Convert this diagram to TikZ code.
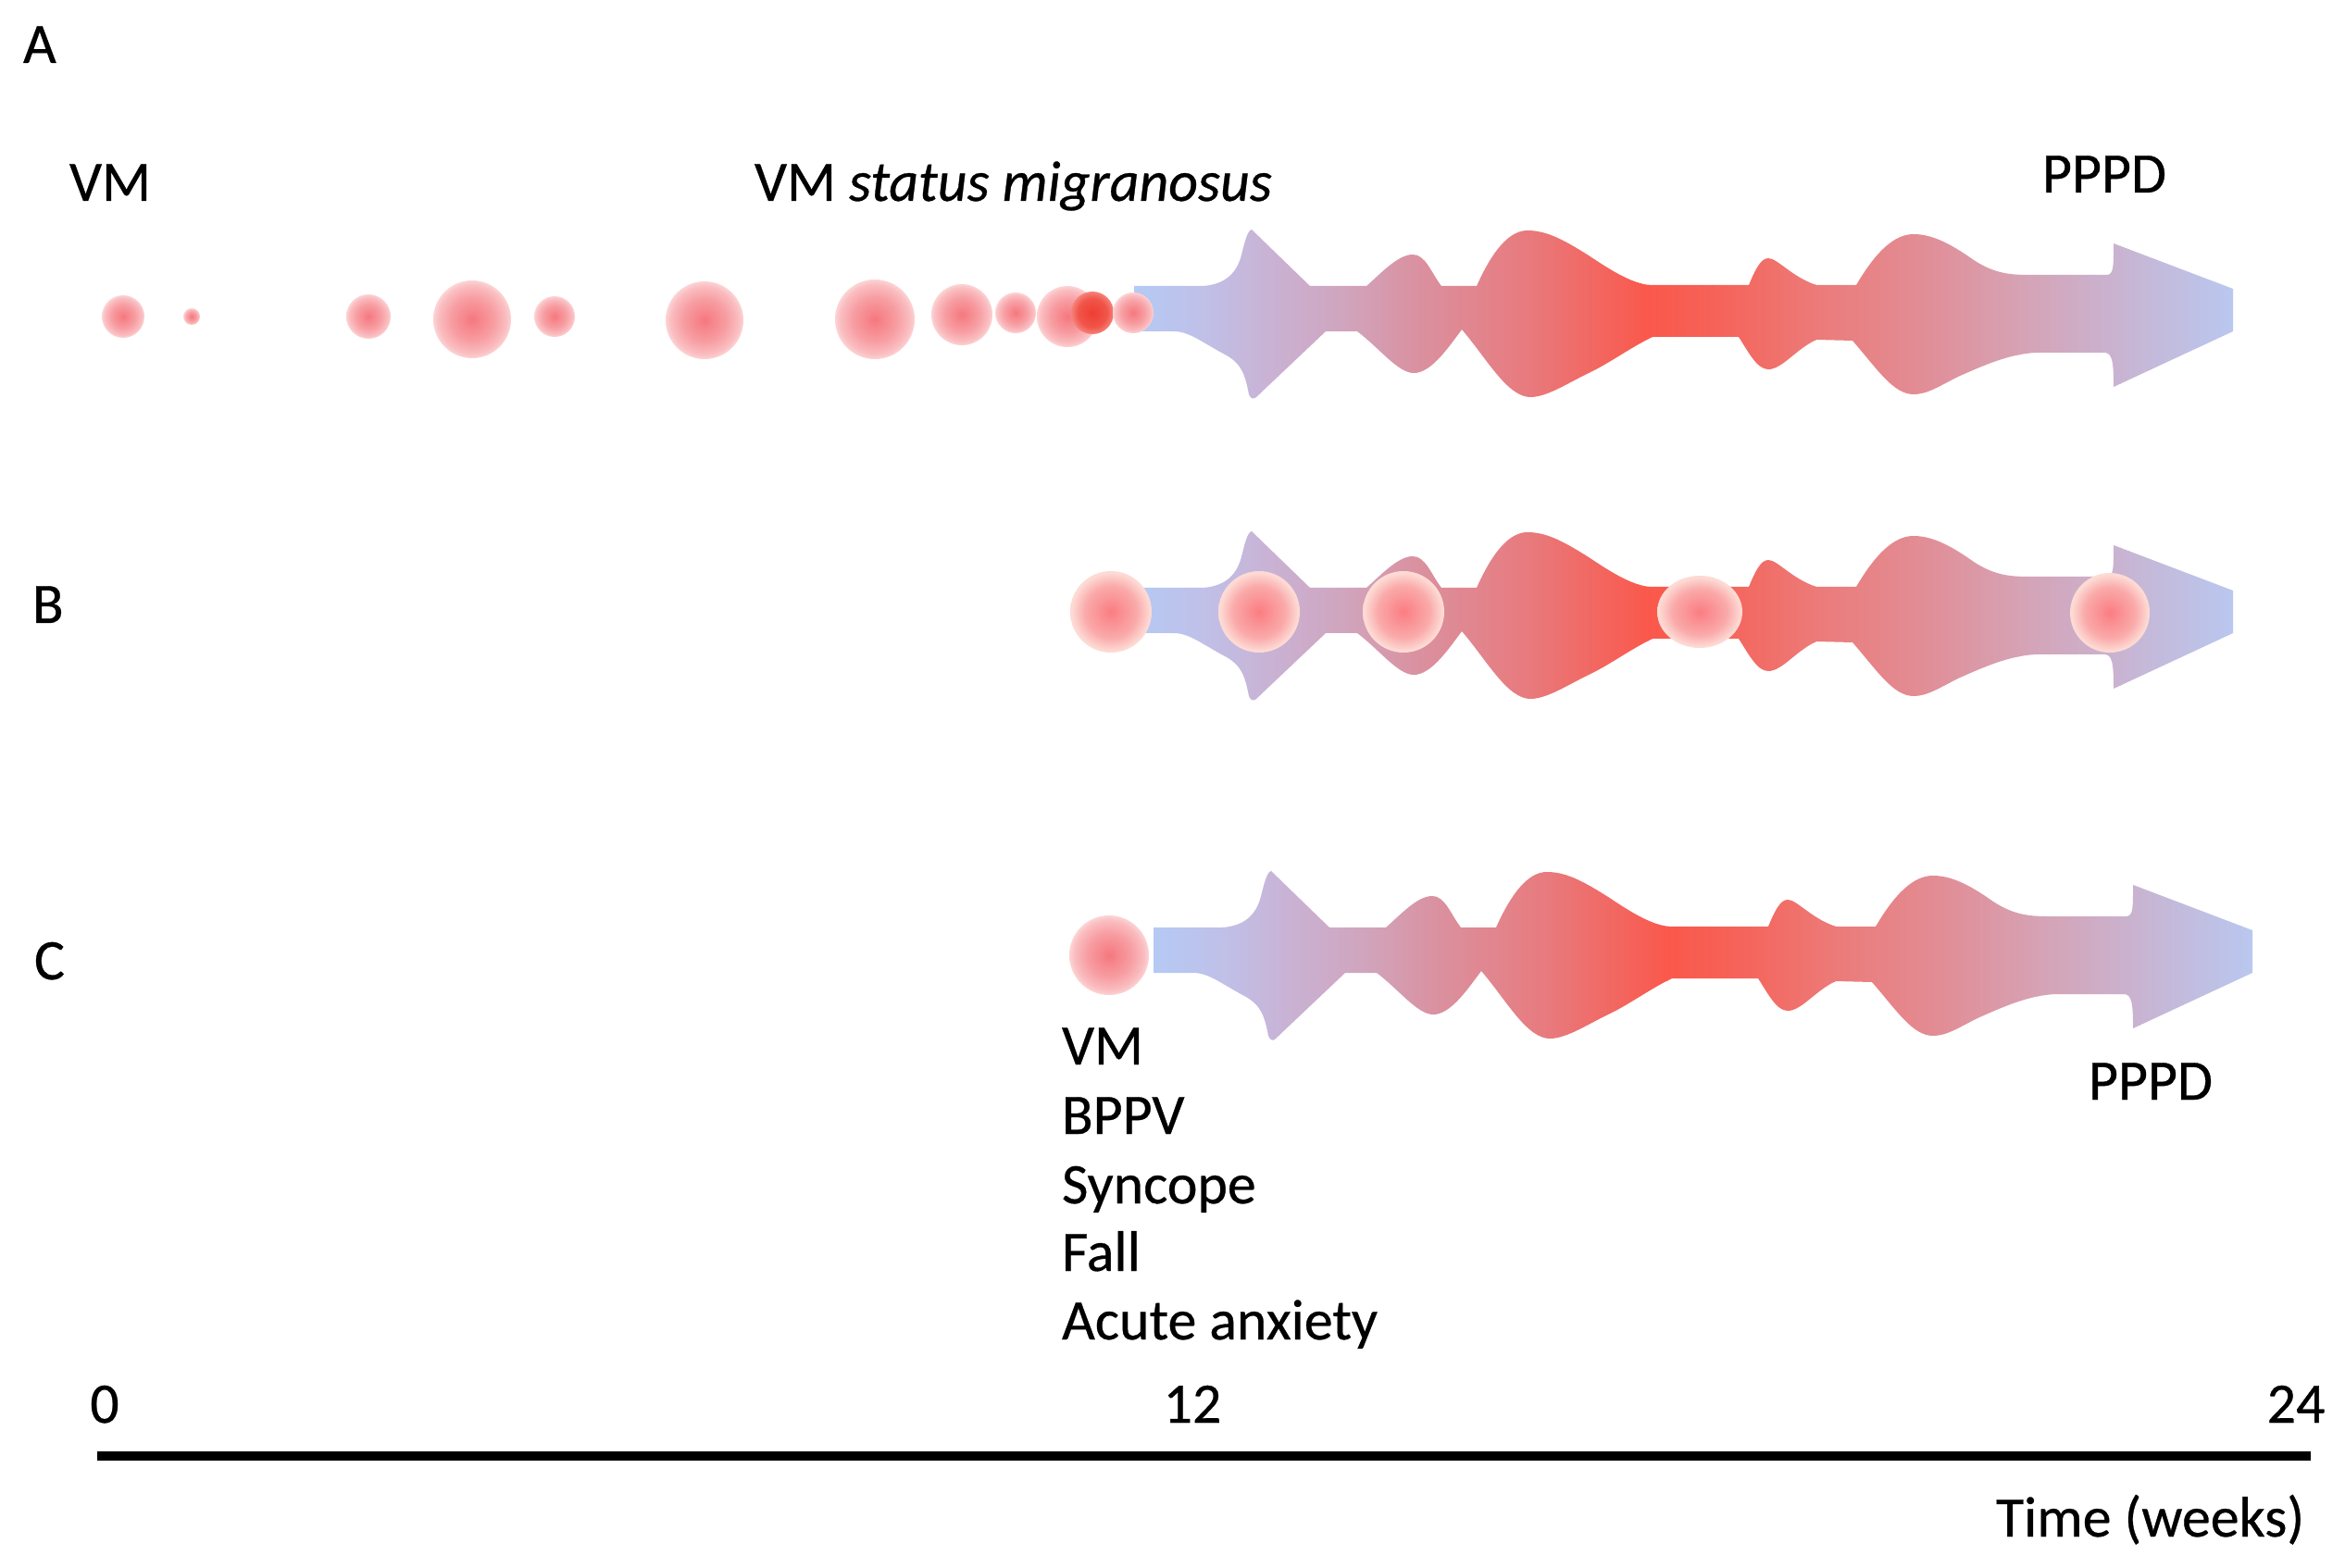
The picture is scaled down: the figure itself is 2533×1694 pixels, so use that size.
\documentclass[tikz,border=0pt]{standalone}
\usepackage{fontspec}
\setmainfont{Carlito}[FakeBold=0.5]
\usetikzlibrary{calc}

\definecolor{w0}{RGB}{180,202,245}
\definecolor{w1}{RGB}{192,192,232}
\definecolor{w2}{RGB}{200,180,215}
\definecolor{w3}{RGB}{208,165,190}
\definecolor{w4}{RGB}{218,145,160}
\definecolor{w5}{RGB}{232,122,125}
\definecolor{w6}{RGB}{250,88,75}
\definecolor{w7}{RGB}{246,98,88}
\definecolor{w8}{RGB}{236,122,120}
\definecolor{w9}{RGB}{226,140,148}
\definecolor{w10}{RGB}{214,162,180}
\definecolor{w11}{RGB}{200,180,210}
\definecolor{w12}{RGB}{185,200,240}

\definecolor{pa1}{RGB}{245,120,126}
\definecolor{pa2}{RGB}{247,158,163}
\definecolor{pa3}{RGB}{250,190,193}
\definecolor{pa4}{RGB}{252,212,212}
\definecolor{pd1}{RGB}{238,62,50}
\definecolor{pd2}{RGB}{241,85,74}
\definecolor{pd3}{RGB}{246,130,122}
\definecolor{pb1}{RGB}{250,125,130}
\definecolor{pb2}{RGB}{250,170,170}
\definecolor{pb3}{RGB}{253,218,212}

\pgfdeclareradialshading{blobA}{\pgfpointorigin}{color(0bp)=(pa1); color(14bp)=(pa2); color(22bp)=(pa3); color(25bp)=(pa4); color(50bp)=(white)}
\pgfdeclareradialshading{blobD}{\pgfpointorigin}{color(0bp)=(pd1); color(17bp)=(pd2); color(25bp)=(pd3); color(50bp)=(white)}
\pgfdeclareradialshading{blobB}{\pgfpointorigin}{color(0bp)=(pb1); color(16bp)=(pb2); color(24bp)=(pb3); color(25bp)=(pb3); color(50bp)=(white)}

\newcommand{\wavepath}{%
(1225,309) -- (1300,309)
.. controls (1322,307) and (1334,297) .. (1340,279)
.. controls (1344,264) and (1347,249) .. (1352,248)
-- (1415,309)
-- (1476,309)
.. controls (1492,295) and (1510,275) .. (1526,275)
.. controls (1540,275) and (1546,295) .. (1557,309)
-- (1595,309)
.. controls (1612,271) and (1630,249) .. (1650,249)
.. controls (1672,249) and (1692,261) .. (1716,276)
.. controls (1740,292) and (1762,306) .. (1782,308)
-- (1889,308)
.. controls (1896,291) and (1902,279) .. (1910,279)
.. controls (1920,279) and (1935,299) .. (1962,308)
-- (2005,308)
.. controls (2025,274) and (2045,253) .. (2067,253)
.. controls (2090,253) and (2112,267) .. (2132,281)
.. controls (2152,294) and (2168,297) .. (2190,297)
-- (2276,297)
.. controls (2283,296) and (2283,289) .. (2283,263)
-- (2412,312) -- (2412,358) -- (2283,418)
.. controls (2283,393) and (2282,382) .. (2274,381)
-- (2200,381)
.. controls (2170,382) and (2140,396) .. (2115,407)
.. controls (2095,417) and (2082,426) .. (2067,426)
.. controls (2045,426) and (2028,399) .. (2001,368)
-- (1962,367)
.. controls (1940,377) and (1925,399) .. (1910,399)
.. controls (1898,399) and (1889,381) .. (1878,364)
-- (1785,364)
.. controls (1760,376) and (1738,393) .. (1714,404)
.. controls (1690,416) and (1670,429) .. (1653,429)
.. controls (1628,429) and (1605,386) .. (1579,356)
.. controls (1562,379) and (1545,403) .. (1527,403)
.. controls (1510,403) and (1490,376) .. (1466,358)
-- (1432,358)
-- (1357,429)
.. controls (1354,432) and (1351,431) .. (1349,426)
.. controls (1345,406) and (1342,394) .. (1325,384)
.. controls (1300,371) and (1285,358) .. (1268,358)
-- (1225,358) -- cycle}

\newcommand{\waveshade}{%
\shade[left color=w0,right color=w1] (1220,240) rectangle (1301,440);
\shade[left color=w1,right color=w2] (1300,240) rectangle (1361,440);
\shade[left color=w2,right color=w3] (1360,240) rectangle (1451,440);
\shade[left color=w3,right color=w4] (1450,240) rectangle (1531,440);
\shade[left color=w4,right color=w5] (1530,240) rectangle (1651,440);
\shade[left color=w5,right color=w6] (1650,240) rectangle (1781,440);
\shade[left color=w6,right color=w7] (1780,240) rectangle (1851,440);
\shade[left color=w7,right color=w8] (1850,240) rectangle (1961,440);
\shade[left color=w8,right color=w9] (1960,240) rectangle (2071,440);
\shade[left color=w9,right color=w10] (2070,240) rectangle (2181,440);
\shade[left color=w10,right color=w11] (2180,240) rectangle (2291,440);
\shade[left color=w11,right color=w12] (2290,240) rectangle (2416,440);}

\tikzset{
  lbl/.style={inner sep=0pt, outer sep=0pt, anchor=base west, font=\fontsize{17.6pt}{21pt}\selectfont},
  tick/.style={lbl, anchor=base},
  blobA/.style={shading=blobA},
  blobD/.style={shading=blobD},
  blobB/.style={shading=blobB},
  axisline/.style={line width=0.95mm, black}
}

\begin{document}
\begin{tikzpicture}[x=0.1mm, y=-0.1mm]
\useasboundingbox (0,0) rectangle (2533,1694);

% ---------- Row A ----------
\begin{scope}
  \clip \wavepath;
  \waveshade
\end{scope}
\shade[blobA] (133,342) circle (23);
\shade[blobA] (207,342) circle (9);
\shade[blobA] (398,342) circle (24);
\shade[blobA] (510,345) circle (42);
\shade[blobA] (599,342) circle (22);
\shade[blobA] (761,346) circle (42);
\shade[blobA] (945,345) circle (43);
\shade[blobA] (1039,340) circle (33);
\shade[blobA] (1097,338) circle (22);
\shade[blobA] (1153,342) circle (33);
\shade[blobD] (1180,338) circle (23);
\shade[blobA] (1224,338) circle (22);

% ---------- Row B ----------
\begin{scope}[shift={(0,326)}]
  \clip \wavepath;
  \waveshade
\end{scope}
\shade[blobB] (1200,661) circle (44);
\shade[blobB] (1360,661) circle (44);
\shade[blobB] (1516,661) circle (44);
\shade[blobB] (1836,661) ellipse [x radius=46, y radius=39];
\shade[blobB] (2279,662) circle (43);

% ---------- Row C ----------
\begin{scope}[shift={(21,693)}]
  \clip \wavepath;
  \waveshade
\end{scope}
\shade[blobA] (1198,1032) circle (43);

% ---------- Labels ----------
\node[lbl] (lA) at (25,68) {A};
\node[lbl] (lB) at (35,673) {B};
\node[lbl] (lC) at (37,1058) {C};

\node[lbl] (vm1) at (75,217) {VM};
\node[lbl] (vmsm) at (815,217) {VM \textit{status migranosus}};
\node[lbl] (pppdA) at (2206,208) {PPPD};

\node[lbl] (c1) at (1147,1150) {VM};
\node[lbl] (c2) at (1147,1225) {BPPV};
\node[lbl] (c3) at (1147,1300) {Syncope};
\node[lbl] (c4) at (1147,1373) {Fall};
\node[lbl] (c5) at (1147,1447) {Acute anxiety};
\node[lbl] (pppdC) at (2256,1188) {PPPD};

% ---------- Time axis ----------
\node[tick] (t0) at (113,1537) {0};
\node[tick] (t12) at (1288,1537) {12};
\node[tick] (t24) at (2480,1537) {24};
\coordinate (ax0) at (105,1573);
\coordinate (ax1) at (2496,1573);
\draw[axisline] (ax0) -- (ax1);
\node[lbl] (tw) at (2156,1660) {Time (weeks)};
\end{tikzpicture}
\end{document}
